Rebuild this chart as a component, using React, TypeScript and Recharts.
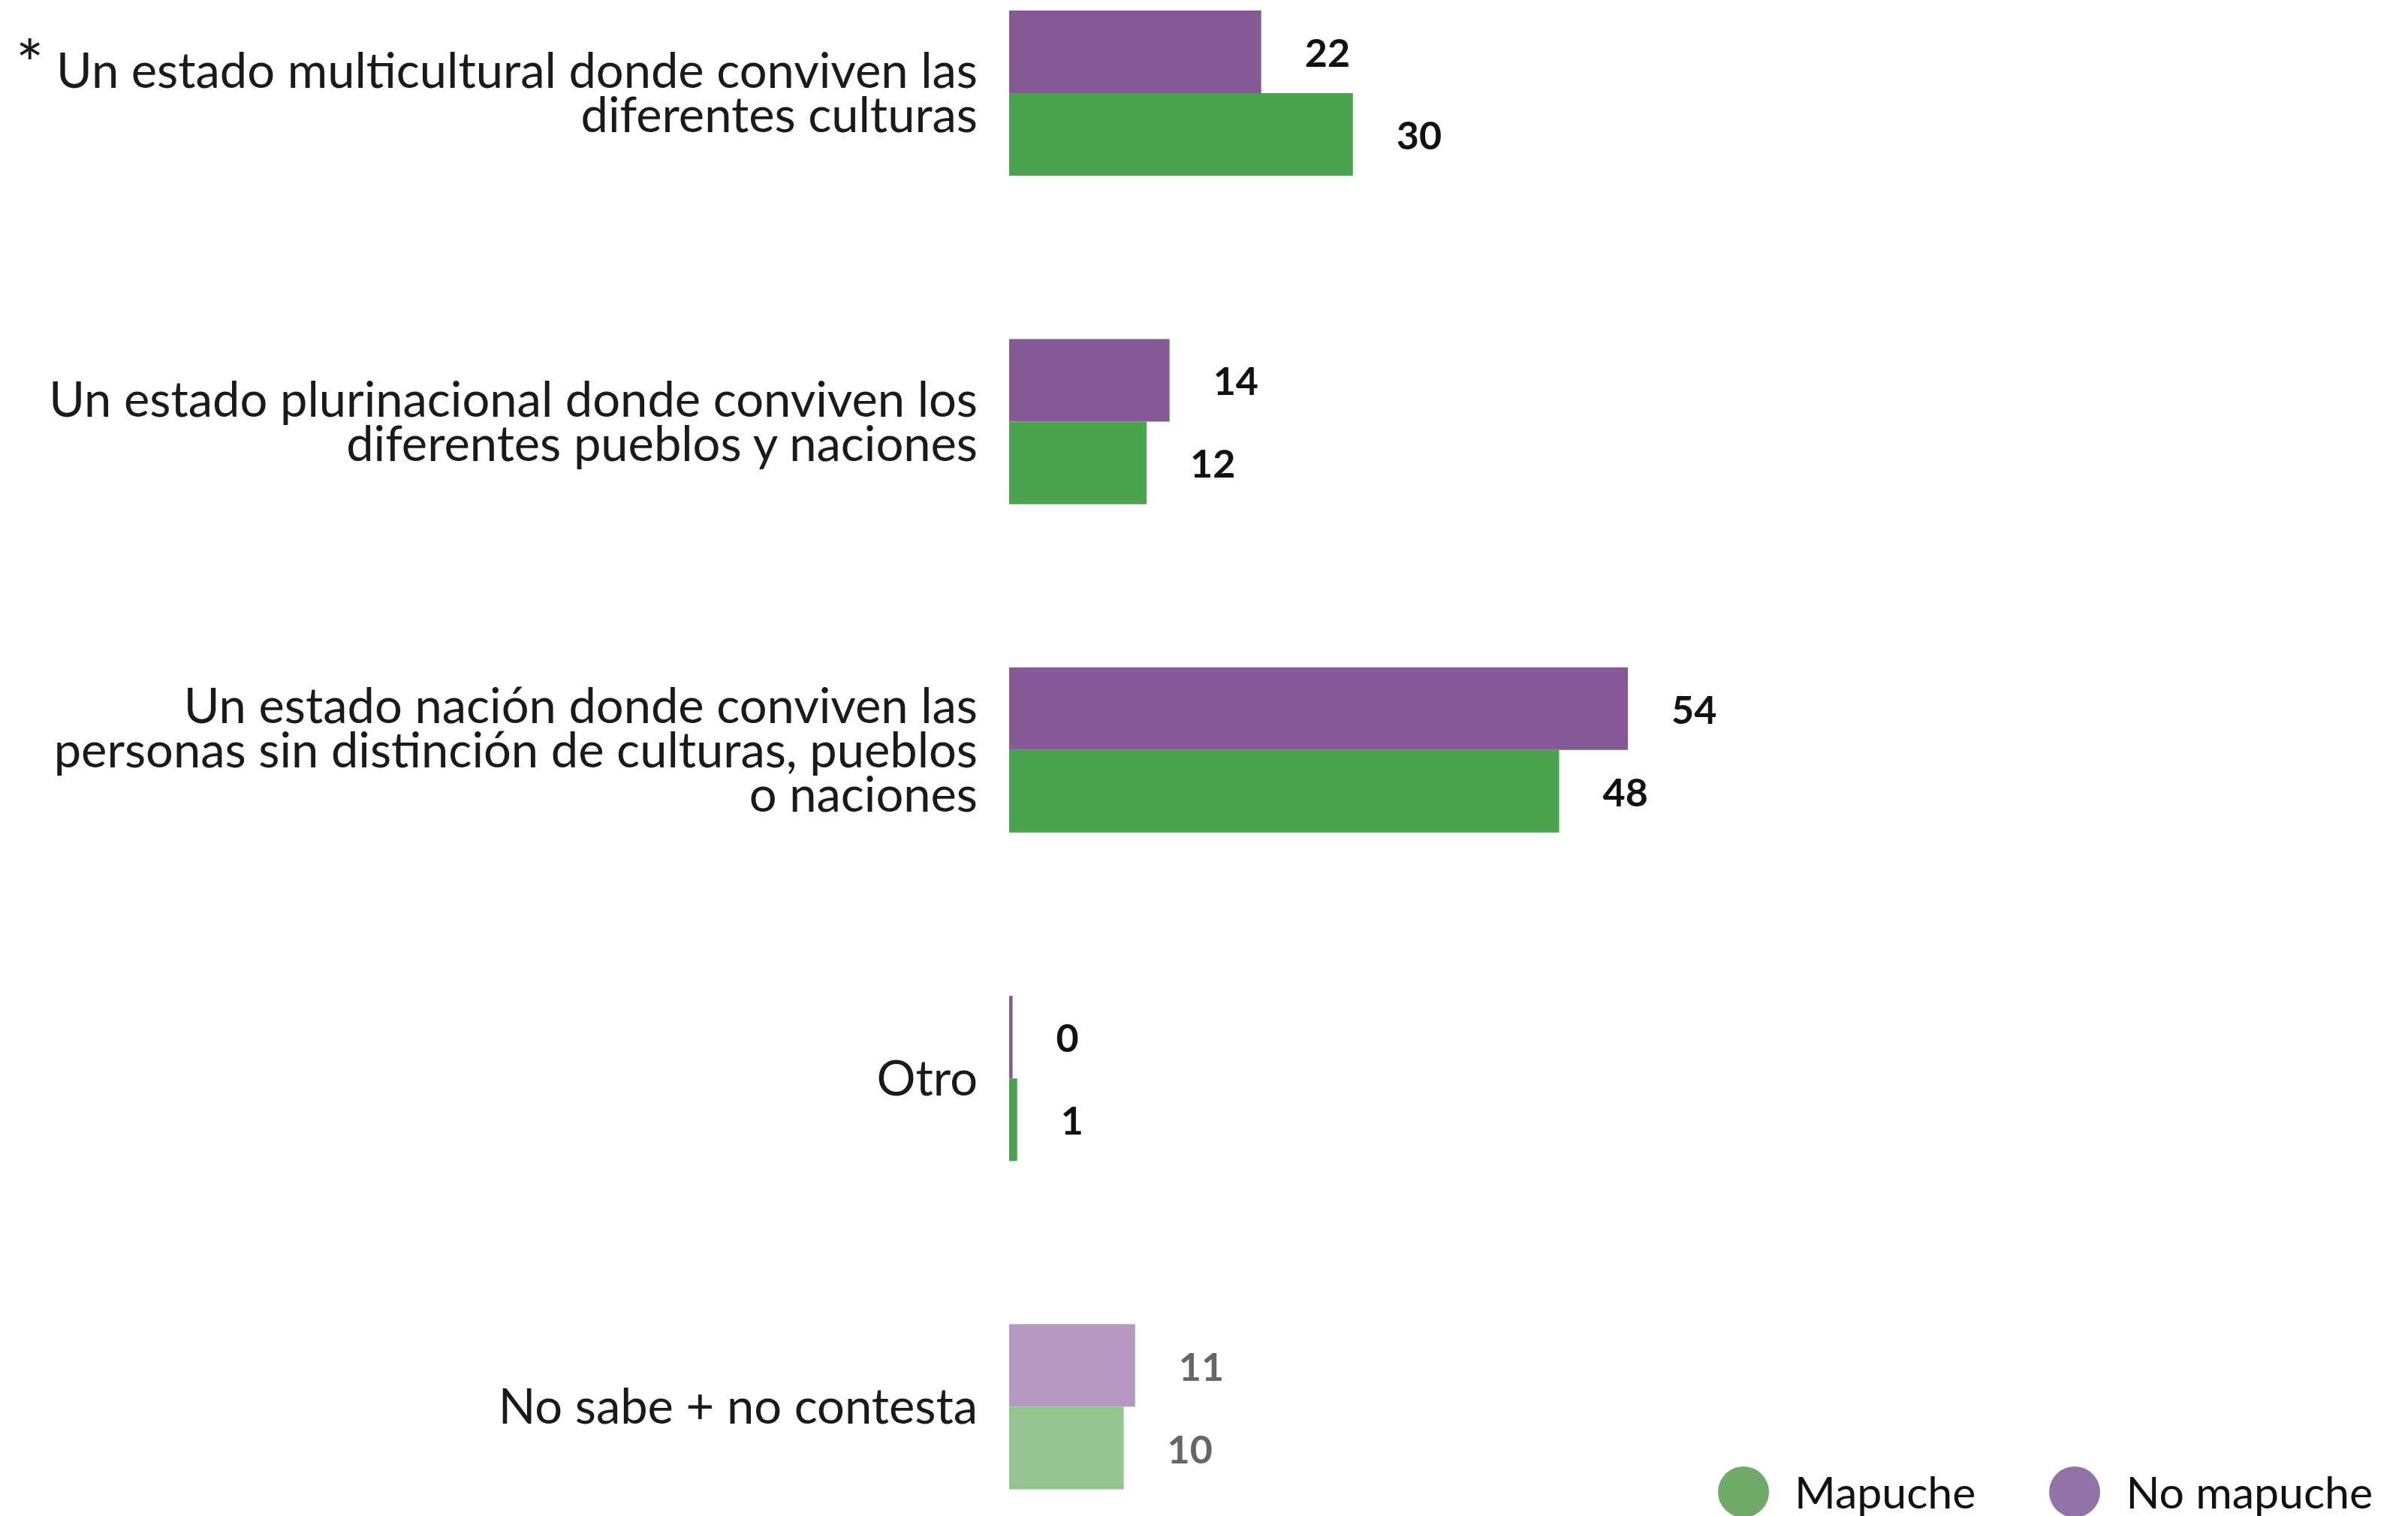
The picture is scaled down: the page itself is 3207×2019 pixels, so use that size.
import React from "react";
import { BarChart, Bar, XAxis, YAxis, LabelList, Cell } from "recharts";

const categories = [
  "Un estado multicultural donde conviven las diferentes culturas",
  "Un estado plurinacional donde conviven los diferentes pueblos y naciones",
  "Un estado nación donde conviven las personas sin distinción de culturas, pueblos o naciones",
  "Otro",
  "No sabe + no contesta",
];

// tick label lines, as broken in the picture
const tickLines = [
  ["Un estado multicultural donde conviven las", "diferentes culturas"],
  ["Un estado plurinacional donde conviven los", "diferentes pueblos y naciones"],
  ["Un estado nación donde conviven las", "personas sin distinción de culturas, pueblos", "o naciones"],
  ["Otro"],
  ["No sabe + no contesta"],
];
const starred = [true, false, false, false, false];

const noMapuche = [22, 14, 54, 0.3, 11];
const mapuche = [30, 12, 48, 0.7, 10];

const PURPLE = "#865a97";
const GREEN = "#4ba34f";
const PURPLE_LIGHT = "#b498c2";
const GREEN_LIGHT = "#94c591";

const data = categories.map((c, i) => ({
  name: c,
  noMapuche: noMapuche[i],
  mapuche: mapuche[i],
}));

const FONT = "Lato, 'Noto Sans', sans-serif";
const LINE_H = 59;

function CategoryTick(props: any) {
  const { x, y, index } = props;
  const lines = tickLines[index] || [];
  const n = lines.length;
  return (
    <g>
      {lines.map((ln, i) => {
        const by = y + (i - (n - 1) / 2) * LINE_H + 23;
        return (
          <text key={i} x={x} y={by} textAnchor="end" fontFamily={FONT} fontSize={65} fill="#1a1a1a">
            {i === 0 && starred[index] ? (
              <>
                <tspan fontSize={88}>*</tspan>
                <tspan> {ln}</tspan>
              </>
            ) : (
              ln
            )}
          </text>
        );
      })}
    </g>
  );
}

const makeLabel = (series: number[]) => (props: any) => {
  const { x, y, width, height, index } = props;
  const faded = index === categories.length - 1;
  return (
    <text
      x={x + width + 58}
      y={y + height / 2}
      dominantBaseline="central"
      textAnchor="start"
      fontFamily={FONT}
      fontWeight={700}
      fontSize={52}
      fill={faded ? "#666666" : "#111111"}
    >
      {Math.round(series[index])}
    </text>
  );
};

const legendItems = [
  { label: "Mapuche", color: "#6faa69" },
  { label: "No mapuche", color: "#9273a8" },
];

export default function App() {
  return (
    <div
      style={{
        position: "absolute",
        left: 0,
        top: 0,
        width: 3207,
        height: 2019,
        overflow: "hidden",
        background: "#ffffff",
      }}
    >
      <div style={{ position: "absolute", left: 0, top: -95 }}>
        <BarChart
          width={3207}
          height={2187}
          data={data}
          layout="vertical"
          margin={{ top: 0, right: 337, bottom: 0, left: 0 }}
          barGap={0}
        >
          <XAxis type="number" domain={[0, 100]} hide />
          <YAxis
            type="category"
            dataKey="name"
            width={1344}
            axisLine={false}
            tickLine={false}
            tickSize={0}
            tickMargin={42}
            interval={0}
            tick={<CategoryTick />}
          />
          <Bar dataKey="noMapuche" barSize={110} isAnimationActive={false}>
            {data.map((_, i) => (
              <Cell key={i} fill={i === categories.length - 1 ? PURPLE_LIGHT : PURPLE} />
            ))}
            <LabelList dataKey="noMapuche" content={makeLabel(noMapuche)} />
          </Bar>
          <Bar dataKey="mapuche" barSize={110} isAnimationActive={false}>
            {data.map((_, i) => (
              <Cell key={i} fill={i === categories.length - 1 ? GREEN_LIGHT : GREEN} />
            ))}
            <LabelList dataKey="mapuche" content={makeLabel(mapuche)} />
          </Bar>
        </BarChart>
      </div>
      <div
        style={{
          position: "absolute",
          left: 2288,
          top: 1953,
          display: "flex",
          alignItems: "center",
          fontFamily: FONT,
          fontSize: 59,
          color: "#111",
          lineHeight: "68px",
        }}
      >
        {legendItems.map((it, i) => (
          <div key={i} style={{ display: "flex", alignItems: "center", marginRight: i === 0 ? 98 : 0 }}>
            <span
              style={{
                display: "inline-block",
                width: 68,
                height: 68,
                borderRadius: 34,
                background: it.color,
                marginRight: 34,
              }}
            />
            <span>{it.label}</span>
          </div>
        ))}
      </div>
    </div>
  );
}
